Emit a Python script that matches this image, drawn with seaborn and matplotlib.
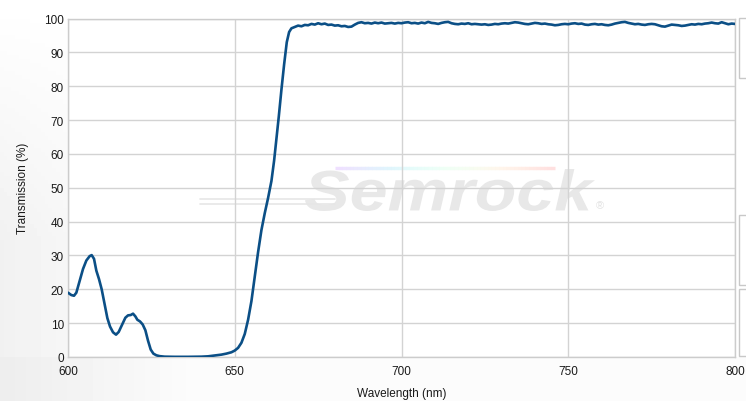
import numpy as np
import pandas as pd
import matplotlib.pyplot as plt
from matplotlib.patches import Rectangle, PathPatch
from matplotlib.collections import LineCollection
from matplotlib.textpath import TextPath
from matplotlib.font_manager import FontProperties
from matplotlib.transforms import Affine2D, IdentityTransform
import seaborn as sns

# --- dados (comprimento de onda em nm, transmissão em %) ---
# parte baixa + rampa da borda
wl_edge = [600, 601, 601.8, 602.5, 603.5, 604.5, 605.5, 606.5, 607.1, 607.8,
           608.5, 609.3, 610.1, 611, 611.8, 612.6, 613.5, 614.4, 615.2, 616.2,
           617.2, 618.0, 618.8, 619.5, 620.2, 620.8, 621.6, 622.4, 623.2, 624.0,
           624.8, 625.6, 626.5, 627.5, 629, 632, 636, 640, 642, 644,
           646, 647.5, 649, 650, 651, 652, 653, 654, 655, 656,
           657, 658, 659, 660, 661, 661.8, 662.5, 663.2, 664, 664.8,
           665.6, 666.3, 667, 668]
tr_edge = [19.0, 18.3, 18.1, 19.0, 22.5, 26.0, 28.5, 29.8, 30.1, 29.0,
           25.5, 23.0, 20.0, 15.5, 11.5, 9.0, 7.3, 6.6, 7.4, 9.5,
           11.6, 12.3, 12.4, 12.8, 12.0, 11.0, 10.5, 9.6, 7.9, 4.8,
           2.2, 1.0, 0.5, 0.25, 0.1, 0.05, 0.05, 0.1, 0.2, 0.45,
           0.7, 1.0, 1.4, 1.9, 2.7, 4.2, 6.8, 11.0, 16.5, 23.8,
           31.0, 37.5, 42.5, 47.0, 52.0, 58.0, 64.5, 71.0, 79.0, 86.4,
           93.0, 96.0, 97.1, 97.5]

# patamar (669 a 800 nm, passo de 1 nm)
wl_plateau = list(range(669, 801))
tr_plateau = [97.9, 97.7, 98.1, 98.0, 98.4, 98.2, 98.6, 98.3, 98.5, 98.1,
              98.2, 97.9, 98.0, 97.7, 97.8, 97.5, 97.6, 98.2, 98.7, 98.9,
              98.6, 98.7, 98.5, 98.8, 98.6, 98.8, 98.5, 98.6, 98.7, 98.5,
              98.7, 98.6, 98.8, 98.9, 98.6, 98.7, 98.5, 98.8, 98.6, 99.0,
              98.7, 98.6, 98.4, 98.7, 98.9, 99.0, 98.6, 98.4, 98.3, 98.5,
              98.4, 98.6, 98.3, 98.4, 98.3, 98.2, 98.3, 98.1, 98.2, 98.4,
              98.3, 98.5, 98.6, 98.5, 98.7, 98.9, 98.8, 98.6, 98.4, 98.3,
              98.5, 98.7, 98.6, 98.4, 98.5, 98.3, 98.2, 98.0, 98.1, 98.3,
              98.4, 98.3, 98.5, 98.6, 98.4, 98.5, 98.2, 98.1, 98.3, 98.4,
              98.2, 98.3, 98.1, 98.0, 98.2, 98.5, 98.7, 98.9, 99.0, 98.7,
              98.5, 98.3, 98.4, 98.2, 98.1, 98.3, 98.4, 98.3, 98.0, 97.7,
              97.6, 97.9, 98.2, 98.1, 98.0, 97.8, 97.9, 98.1, 98.3, 98.2,
              98.4, 98.3, 98.5, 98.6, 98.8, 98.6, 98.5, 98.9, 98.6, 98.3,
              98.5, 98.4]

x_ticks = [600, 650, 700, 750, 800]
y_ticks = [0, 10, 20, 30, 40, 50, 60, 70, 80, 90, 100]

df = pd.DataFrame({
    "Wavelength (nm)": wl_edge + wl_plateau,
    "Transmission (%)": tr_edge + tr_plateau,
})

sns.set_theme(style="whitegrid")
plt.rcParams['font.family'] = ['Liberation Sans', 'DejaVu Sans']

fig = plt.figure(figsize=(7.46, 4.02), dpi=100)

# fundo com leve degradê cinza à esquerda
bg = fig.add_axes([0, 0, 1, 1], zorder=-10)
gx = np.linspace(0, 1, 200)
gy = np.linspace(0, 1, 100)
GX, GY = np.meshgrid(gx, gy)
shade = 1 - 0.055 * np.clip(1 - GX / 0.25, 0, 1) * np.clip(GY / 0.6, 0, 1) - 0.015 * (GY > 0.89)
bg.imshow(shade, cmap="gray", vmin=0, vmax=1, extent=[0, 1, 0, 1], aspect="auto", origin="upper")
bg.axis("off")

ax = fig.add_axes([68 / 746, 1 - 358 / 402, (735 - 68) / 746, (358 - 19.5) / 402])
ax.set_facecolor("white")

# marca d'água (texto esticado na horizontal, em pixels)
tp = TextPath((0, 0), "Semrock", size=1,
              prop=FontProperties(family="Liberation Sans", weight="bold", style="italic"))
ext = tp.get_extents()
sx = 290 / ext.width
sy = 42 / ext.height
tr_wm = Affine2D().translate(-ext.x0, -ext.y0).scale(sx, sy).translate(305, 402 - 212)
ax.add_artist(PathPatch(tp, transform=tr_wm + IdentityTransform(), facecolor="#e8e8e8",
                        edgecolor="none", zorder=0.5))
ax.text(0.797, 0.45, "®", transform=ax.transAxes, fontsize=8, color="#e3e3e3",
        ha="center", va="center", zorder=0.5)
for yy in (0.452, 0.468):
    ax.plot([0.198, 0.40], [yy, yy], transform=ax.transAxes, color="#e6e6e6", lw=1.2, zorder=0.5)
rx = np.linspace(0.40, 0.73, 60)
segs = [[(rx[i], 0.558), (rx[i + 1], 0.558)] for i in range(len(rx) - 1)]
rainbow = LineCollection(segs, cmap="rainbow", transform=ax.transAxes, linewidth=2.5,
                         alpha=0.12, zorder=0.5)
rainbow.set_array(np.linspace(0, 1, len(segs)))
ax.add_collection(rainbow)

sns.lineplot(data=df, x="Wavelength (nm)", y="Transmission (%)", ax=ax,
             color="#0b4f86", linewidth=1.9, zorder=3)

ax.set_xlim(600, 800)
ax.set_ylim(0, 100)
ax.set_xticks(x_ticks)
ax.set_yticks(y_ticks)
ax.grid(True, color="#d3d3d3", linewidth=1)
for s in ax.spines.values():
    s.set_color("#cccccc")
    s.set_linewidth(1)
ax.tick_params(axis="both", length=0, labelsize=8.5, colors="#1a1a1a")
ax.tick_params(axis="x", pad=6)
ax.tick_params(axis="y", pad=3)
ax.set_xlabel("Wavelength (nm)", fontsize=8.5, color="#1a1a1a", labelpad=7)
ax.set_ylabel("Transmission (%)", fontsize=8.5, color="#1a1a1a", labelpad=11)

# bordas dos painéis à direita
for (y0, y1) in [(19, 79), (216, 286), (290, 357)]:
    fig.patches.append(Rectangle((739 / 746, 1 - y1 / 402), 0.02, (y1 - y0) / 402,
                                 transform=fig.transFigure, facecolor="white",
                                 edgecolor="#c8c8c8", linewidth=1, zorder=-1))

fig.savefig("out.png", dpi=100, facecolor="white")
